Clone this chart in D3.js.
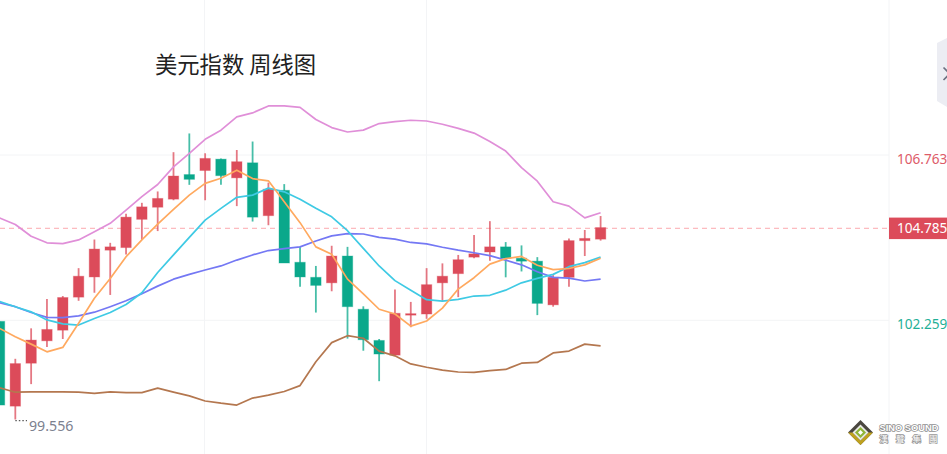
<!DOCTYPE html>
<html>
<head>
<meta charset="utf-8">
<script src="https://d3js.org/d3.v7.min.js"></script>
<style>
	html, body {
		margin: 0;
		padding: 0;
		background: #fff;
		overflow: hidden;
	}
	svg {
		display: block;
	}
	.title {
		font-family: "Noto Sans CJK SC";
		font-size: 22.3px;
		fill: #222;
	}
	.axis text {
		font-family: "Noto Sans";
		font-size: 13.6px;
	}
	.axis path, .axis line {
		display: none;
	}
	.ma {
		fill: none;
		stroke-width: 1.7;
		stroke-linejoin: round;
	}
</style>
</head>

<body>
<script>
	// weekly candles
	var opens = [102.23,99.92,101.09,101.70,101.99,102.89,103.44,104.17,104.24,105.01,105.34,105.56,106.23,106.34,106.65,106.14,106.55,105.11,105.80,103.84,103.43,103.28,104.01,102.56,101.71,101.31,102.40,102.43,103.28,103.53,103.98,104.12,104.26,103.95,103.87,102.68,103.43,104.43,104.47];
	var closes = [99.95,101.08,101.72,102.01,102.88,103.46,104.20,104.26,105.07,105.35,105.58,106.19,106.10,106.67,106.20,106.58,105.07,105.83,103.82,103.44,103.21,104.01,102.63,101.73,101.34,102.45,102.44,103.23,103.46,103.91,104.07,104.26,103.95,103.87,102.72,103.43,104.43,104.49,104.785];
	var highs = [102.23,101.21,102.04,102.84,102.92,103.68,104.46,104.37,105.16,105.46,105.77,106.84,107.35,106.81,106.67,106.90,107.13,106.01,105.97,104.26,103.74,104.29,104.26,102.64,101.75,103.10,102.76,103.68,103.81,104.04,104.58,104.96,104.39,104.30,103.98,103.49,104.49,104.72,105.10];
	var lows = [99.95,99.556,100.52,101.53,101.75,102.79,103.01,102.95,104.05,104.45,104.69,105.53,105.95,105.53,105.95,105.37,104.95,104.85,103.82,103.17,102.47,103.05,101.76,101.43,100.60,101.31,102.07,102.30,102.77,102.89,103.95,103.88,103.43,103.59,102.40,102.63,103.17,104.01,104.43];

	// moving averages and bands
	var maOrange = [102.04,101.81,101.61,101.40,101.52,102.18,102.86,103.40,103.99,104.45,104.88,105.28,105.67,105.99,106.13,106.35,106.12,106.06,105.49,104.92,104.26,104.06,103.38,102.98,102.56,102.43,102.10,102.24,102.59,103.11,103.42,103.79,103.94,104.00,103.76,103.64,103.67,103.77,103.95];
	var maCyan = [102.77,102.63,102.49,102.27,102.16,102.13,102.31,102.47,102.69,103.01,103.56,104.04,104.52,104.99,105.31,105.61,105.67,105.86,105.76,105.56,105.31,105.08,104.70,104.22,103.74,103.34,103.08,102.82,102.78,102.83,102.92,102.94,103.08,103.28,103.40,103.51,103.72,103.83,103.98];
	var maBlue = [102.74,102.63,102.47,102.34,102.33,102.38,102.48,102.63,102.79,102.98,103.19,103.38,103.51,103.63,103.74,103.90,104.04,104.16,104.21,104.26,104.42,104.56,104.62,104.61,104.52,104.47,104.38,104.34,104.25,104.17,104.10,104.02,103.90,103.77,103.58,103.43,103.41,103.33,103.38];
	var bandUpper = [105.05,104.87,104.55,104.37,104.35,104.45,104.67,104.90,105.26,105.63,105.96,106.44,106.81,107.19,107.44,107.80,107.91,108.10,108.10,108.06,107.73,107.51,107.39,107.44,107.62,107.67,107.71,107.69,107.60,107.49,107.36,107.13,106.87,106.42,106.05,105.49,105.37,105.05,105.19];
	var bandLower = [100.42,100.30,100.31,100.31,100.31,100.30,100.27,100.31,100.29,100.29,100.41,100.30,100.20,100.06,100.00,99.95,100.14,100.22,100.32,100.48,101.13,101.65,101.84,101.77,101.42,101.29,101.07,100.98,100.90,100.85,100.84,100.89,100.92,101.09,101.11,101.37,101.42,101.61,101.56];

	var axisTicks = [106.763, 102.259];
	var lastPrice = 104.785;
	var lowPrice = 99.556;
	var lowIndex = 1;
	var titleText = "美元指数 周线图";

	var up = "#dc4b5a", down = "#0aa88b";
	var width = 947, height = 454, axisX = 889;

	var svg = d3.select("body").append("svg")
		.attr("width", width)
		.attr("height", height);

	var x = d3.scaleLinear().domain([0, opens.length - 1]).range([-0.5, 600.6]);
	var y = d3.scaleLinear().domain([106.763, 102.259]).range([155, 320.3]);

	// grid
	svg.selectAll(".hgrid").data(axisTicks).enter().append("line")
		.attr("class", "hgrid")
		.attr("x1", 0).attr("x2", axisX)
		.attr("y1", function(d) { return y(d); })
		.attr("y2", function(d) { return y(d); })
		.attr("stroke", "#f3f4f6");
	svg.selectAll(".vgrid").data([204.5, 426.5, axisX]).enter().append("line")
		.attr("class", "vgrid")
		.attr("x1", function(d) { return d; })
		.attr("x2", function(d) { return d; })
		.attr("y1", 0).attr("y2", height)
		.attr("stroke", "#f3f4f6");

	// last price line
	svg.append("line")
		.attr("x1", 0).attr("x2", axisX)
		.attr("y1", y(lastPrice) + 0.7).attr("y2", y(lastPrice) + 0.7)
		.attr("stroke", "#fca9ae")
		.attr("stroke-dasharray", "5,4");

	// candles
	var candles = svg.selectAll(".candle").data(d3.range(opens.length)).enter().append("g")
		.attr("class", "candle");
	candles.append("line")
		.attr("x1", function(i) { return x(i); })
		.attr("x2", function(i) { return x(i); })
		.attr("y1", function(i) { return y(highs[i]); })
		.attr("y2", function(i) { return y(lows[i]); })
		.attr("stroke-width", 1.8)
		.attr("stroke-opacity", 0.75)
		.attr("stroke", function(i) { return closes[i] >= opens[i] ? up : down; });
	candles.append("rect")
		.attr("x", function(i) { return x(i) - 5.2; })
		.attr("width", 10.4)
		.attr("y", function(i) { return y(Math.max(opens[i], closes[i])); })
		.attr("height", function(i) { return Math.max(1.5, Math.abs(y(opens[i]) - y(closes[i]))); })
		.attr("fill", function(i) { return closes[i] >= opens[i] ? up : down; })
		.attr("stroke", function(i) { return closes[i] >= opens[i] ? up : down; })
		.attr("stroke-opacity", 0.35);

	// ma lines
	var line = d3.line()
		.x(function(d, i) { return x(i); })
		.y(function(d) { return y(d); });
	var series = [
		{values: bandUpper, color: "#e08fd8"},
		{values: bandLower, color: "#b4774f"},
		{values: maBlue, color: "#7478f4"},
		{values: maCyan, color: "#3fcae4"},
		{values: maOrange, color: "#ffa95f"}
	];
	svg.selectAll(".ma").data(series).enter().append("path")
		.attr("class", "ma")
		.attr("d", function(d) { return line(d.values); })
		.attr("stroke", function(d) { return d.color; });

	// lowest price marker
	svg.append("line")
		.attr("x1", x(lowIndex)).attr("x2", 27)
		.attr("y1", y(lowPrice) + 1.2).attr("y2", y(lowPrice) + 1.2)
		.attr("stroke", "#333")
		.attr("stroke-dasharray", "1.5,2");
	svg.append("text")
		.attr("x", 29).attr("y", y(lowPrice) + 11)
		.attr("font-family", "Noto Sans")
		.attr("font-size", "14.2px")
		.attr("fill", "#7c818f")
		.text(d3.format(".3f")(lowPrice));

	// price axis
	var axis = svg.append("g")
		.attr("class", "axis")
		.attr("transform", "translate(" + axisX + ",0)")
		.call(d3.axisRight(y).tickValues(axisTicks).tickSize(0).tickPadding(8).tickFormat(d3.format(".3f")));
	axis.selectAll(".tick text")
		.attr("dy", "0.6em")
		.attr("fill", function(d) { return d > lastPrice ? "#dd5b69" : "#1fb097"; });

	svg.append("rect")
		.attr("x", axisX).attr("y", y(lastPrice) - 10)
		.attr("width", width - axisX).attr("height", 21.5)
		.attr("fill", up);
	svg.append("text")
		.attr("x", axisX + 8).attr("y", y(lastPrice) + 5.8)
		.attr("font-family", "Noto Sans")
		.attr("font-size", "13.6px")
		.attr("fill", "#fff")
		.text(d3.format(".3f")(lastPrice));

	// title
	svg.append("text")
		.attr("class", "title")
		.attr("x", 155).attr("y", 73)
		.text(titleText);

	// side tab
	svg.append("path")
		.attr("d", "M947,38L937,43V101L947,107Z")
		.attr("fill", "#ecedf3");
	svg.append("path")
		.attr("d", "M943.5,67.5L951,75M943.5,80L951,72.5")
		.attr("fill", "none")
		.attr("stroke", "#6d7080")
		.attr("stroke-width", 1.6);

	// logo
	var logo = svg.append("g").attr("transform", "translate(860.5,432.5)");
	logo.append("path").attr("d", "M0,-12.5L12.5,0L0,12.5L-12.5,0Z").attr("fill", "#4a4640");
	logo.append("path").attr("d", "M-12.5,0L0,12.5L12.5,0L8,0L0,8L-8,0Z").attr("fill", "#bfa11f");
	logo.append("path").attr("d", "M0,-8L8,0L0,8L-8,0Z").attr("fill", "#e9e9e4");
	logo.append("path").attr("d", "M0,-5.5L5.5,0L0,5.5L-5.5,0Z").attr("fill", "#8fb536");
	logo.append("path").attr("d", "M0,-2.5L2.5,0L0,2.5L-2.5,0Z").attr("fill", "#fff");
	svg.append("text")
		.attr("x", 879.5).attr("y", 431)
		.attr("font-family", "Liberation Sans")
		.attr("font-weight", "bold")
		.attr("font-size", "9.3px")
		.attr("fill", "#fff")
		.attr("stroke", "#8e8e8e")
		.attr("stroke-width", 1.5)
		.attr("paint-order", "stroke")
		.text("SINO SOUND");
	svg.append("text")
		.attr("x", 879.5).attr("y", 442)
		.attr("font-family", "Noto Sans CJK TC")
		.attr("font-size", "8.5px")
		.attr("letter-spacing", "8px")
		.attr("fill", "#fff")
		.attr("stroke", "#999")
		.attr("stroke-width", 1.5)
		.attr("paint-order", "stroke")
		.text("漢聲集團");
</script>
</body>
</html>
